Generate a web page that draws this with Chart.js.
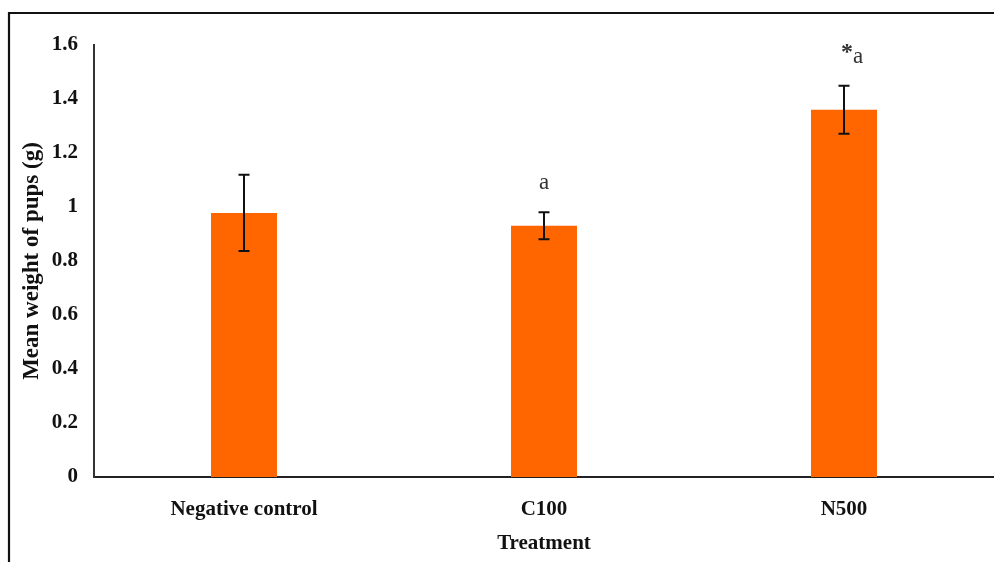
<!DOCTYPE html>
<html>
<head>
<meta charset="utf-8">
<script src="https://cdn.jsdelivr.net/npm/chart.js@4.4.1/dist/chart.umd.min.js"></script>
<style>
  html, body { margin: 0; padding: 0; background: #fff; }
  #wrap { width: 994px; height: 562px; }
</style>
</head>
<body>
<div id="wrap"><canvas id="c" width="994" height="562"></canvas></div>
<script>
// Mean pup weight per treatment group, with standard error
const categories = ['Negative control', 'C100', 'N500'];
const meanWeight = [0.978, 0.931, 1.360];
const errorSize = [0.141, 0.050, 0.089];
const sigLetters = ['', 'a', '*a'];
const yTickValues = [0, 0.2, 0.4, 0.6, 0.8, 1, 1.2, 1.4, 1.6];

const serif = "'Liberation Serif', 'Times New Roman', serif";

// White page with a thin frame along the top and left edges
const framePlugin = {
  id: 'frame',
  beforeDraw(chart) {
    const ctx = chart.ctx;
    ctx.save();
    ctx.fillStyle = '#ffffff';
    ctx.fillRect(0, 0, chart.width, chart.height);
    ctx.strokeStyle = '#111111';
    ctx.lineWidth = 2.2;
    ctx.beginPath();
    ctx.moveTo(9, chart.height);
    ctx.lineTo(9, 13);
    ctx.lineTo(chart.width, 13);
    ctx.stroke();
    ctx.restore();
  }
};

// Error bars and significance letters above each bar
const errorPlugin = {
  id: 'errorBars',
  afterDatasetsDraw(chart) {
    const ctx = chart.ctx;
    const y = chart.scales.y;
    const meta = chart.getDatasetMeta(0);
    ctx.save();
    meta.data.forEach((bar, i) => {
      const x = bar.x;
      const top = y.getPixelForValue(meanWeight[i] + errorSize[i]);
      const bot = y.getPixelForValue(meanWeight[i] - errorSize[i]);
      ctx.strokeStyle = '#111111';
      ctx.lineWidth = 2;
      ctx.beginPath();
      ctx.moveTo(x, top); ctx.lineTo(x, bot);
      ctx.moveTo(x - 5.5, top); ctx.lineTo(x + 5.5, top);
      ctx.moveTo(x - 5.5, bot); ctx.lineTo(x + 5.5, bot);
      ctx.stroke();

      const label = sigLetters[i];
      if (!label) return;
      ctx.fillStyle = '#333333';
      ctx.textBaseline = 'middle';
      const ly = top - 29;
      if (label.startsWith('*')) {
        const rest = label.slice(1);
        ctx.font = 'bold 24px ' + serif;
        const starW = ctx.measureText('*').width;
        const x0 = x - 3;
        ctx.textAlign = 'left';
        ctx.fillText('*', x0, ly - 4);
        ctx.font = '23px ' + serif;
        ctx.fillText(rest, x0 + starW, ly);
      } else {
        ctx.font = '23px ' + serif;
        ctx.textAlign = 'center';
        ctx.fillText(label, x, ly);
      }
    });
    ctx.restore();
  }
};

new Chart(document.getElementById('c'), {
  type: 'bar',
  data: {
    labels: categories,
    datasets: [{
      data: meanWeight,
      backgroundColor: '#FF6600',
      borderWidth: 0,
      barPercentage: 0.22,
      categoryPercentage: 1.0
    }]
  },
  options: {
    responsive: false,
    animation: false,
    devicePixelRatio: 1,
    layout: { padding: { left: 0, right: 0, top: 45, bottom: 0 } },
    plugins: {
      legend: { display: false },
      tooltip: { enabled: false }
    },
    scales: {
      x: {
        grid: { display: false, drawTicks: false },
        border: { display: true, color: '#222222', width: 2 },
        ticks: {
          padding: 20,
          color: '#111111',
          font: { family: serif, size: 21, weight: 'bold' }
        },
        title: {
          display: true,
          text: 'Treatment',
          color: '#111111',
          padding: { top: 0, bottom: 6 },
          font: { family: serif, size: 21, weight: 'bold' }
        },
        afterFit(scale) { scale.height = 85; }
      },
      y: {
        min: 0,
        max: 1.6,
        grid: { display: false, drawTicks: false },
        border: { display: true, color: '#333333', width: 2 },
        afterBuildTicks(scale) {
          scale.ticks = yTickValues.map(v => ({ value: v }));
        },
        ticks: {
          padding: 16,
          color: '#111111',
          font: { family: serif, size: 21, weight: 'bold' },
          callback: (v) => String(v)
        },
        title: {
          display: true,
          text: 'Mean weight of pups (g)',
          color: '#111111',
          padding: { top: 18, bottom: 0 },
          font: { family: serif, size: 23, weight: 'bold' }
        },
        afterFit(scale) { scale.width = 94; }
      }
    }
  },
  plugins: [framePlugin, errorPlugin]
});
</script>
</body>
</html>
